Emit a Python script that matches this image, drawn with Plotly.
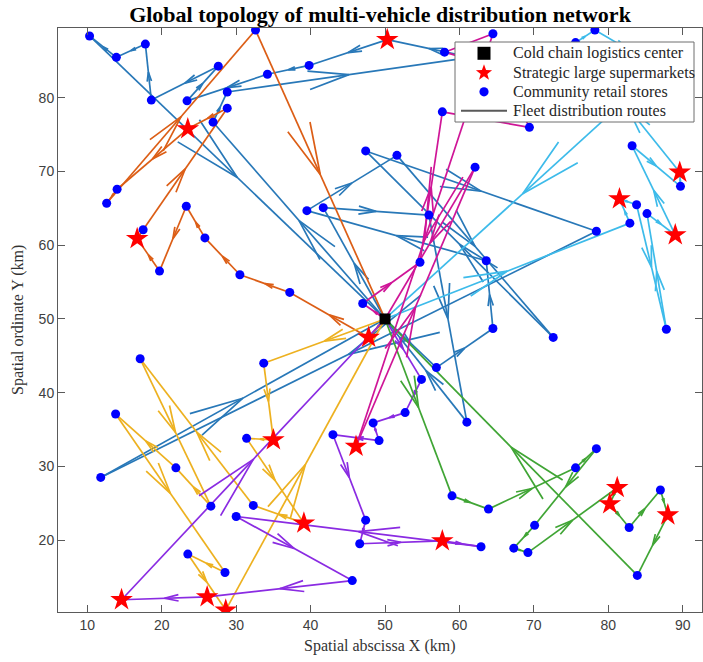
import math
import plotly.graph_objects as go

DEPOT_X = [50.0]
DEPOT_Y = [50.0]

# ---- routes (node sequences, depot at both ends) ----
BLUE1_X = [50.0, 26.9, 28.8, 61.5, 50.3, 39.8, 34.2, 23.4, 27.6, 18.6, 17.8, 13.9, 10.3, 50.0]
BLUE1_Y = [50.0, 76.7, 80.8, 85.5, 87.9, 84.4, 83.2, 79.6, 84.3, 79.7, 87.3, 85.5, 88.4, 50.0]

BLUE2_X = [50.0, 56.9, 64.5, 63.6, 39.5, 51.6, 72.6, 47.4, 78.4, 11.8, 50.0]
BLUE2_Y = [50.0, 43.4, 48.7, 57.9, 64.7, 72.2, 47.5, 72.8, 61.9, 28.5, 50.0]

BLUE3_X = [50.0, 41.7, 55.9, 61.0, 50.0]
BLUE3_Y = [50.0, 65.1, 64.1, 36.0, 50.0]

ORANGE_X = [50.0, 47.8, 37.2, 30.5, 25.8, 23.3, 19.7, 16.7, 17.5, 28.8, 23.5, 14.0, 12.6, 32.6, 50.0]
ORANGE_Y = [50.0, 47.5, 53.6, 56.0, 61.0, 65.3, 56.5, 60.9, 62.1, 78.6, 75.8, 67.6, 65.7, 89.2, 50.0]

YELLOW_X = [50.0, 33.7, 35.0, 31.4, 39.1, 32.3, 17.1, 26.6, 21.9, 13.8, 28.5, 23.5, 28.6, 50.0]
YELLOW_Y = [50.0, 44.0, 33.6, 33.8, 22.3, 24.7, 44.6, 24.6, 29.8, 37.1, 15.6, 18.1, 10.5, 50.0]

PURPLE_X = [50.0, 54.9, 52.7, 48.4, 49.2, 43.0, 47.4, 46.6, 57.7, 62.9, 30.0, 45.6, 26.1, 14.6, 50.0]
PURPLE_Y = [50.0, 41.8, 37.3, 35.9, 33.5, 34.3, 22.7, 19.5, 19.9, 19.1, 23.2, 14.5, 12.3, 11.9, 50.0]

GREEN_X = [50.0, 59.0, 63.9, 75.6, 78.4, 70.1, 67.3, 69.2, 81.2, 80.2, 82.8, 87.0, 88.0, 83.9, 50.0]
GREEN_Y = [50.0, 26.0, 24.2, 29.8, 32.4, 22.0, 18.9, 18.3, 27.1, 24.9, 21.7, 26.8, 23.4, 15.2, 50.0]

CYAN_X = [50.0, 82.9, 81.5, 83.8, 87.8, 85.2, 89.0, 83.2, 89.7, 89.6, 75.6, 78.2, 87.0, 50.0]
CYAN_Y = [50.0, 63.0, 66.3, 65.5, 48.6, 64.3, 61.4, 73.5, 68.0, 69.9, 87.5, 89.2, 84.0, 50.0]

MAGENTA_X = [50.0, 47.0, 54.7, 57.7, 69.4, 65.5, 58.0, 64.5, 46.1, 62.1, 50.0]
MAGENTA_Y = [50.0, 52.1, 57.7, 78.1, 76.0, 84.0, 86.2, 88.7, 32.7, 70.6, 50.0]

ROUTES = [
    (BLUE1_X, BLUE1_Y, "#2878b8"),
    (BLUE2_X, BLUE2_Y, "#2878b8"),
    (BLUE3_X, BLUE3_Y, "#2878b8"),
    (ORANGE_X, ORANGE_Y, "#dc5e16"),
    (YELLOW_X, YELLOW_Y, "#edb120"),
    (PURPLE_X, PURPLE_Y, "#8a2be2"),
    (GREEN_X, GREEN_Y, "#40a535"),
    (CYAN_X, CYAN_Y, "#3dbbea"),
    (MAGENTA_X, MAGENTA_Y, "#cf1597"),
]

SUPER_X = [50.3, 23.5, 16.7, 47.8, 89.6, 81.5, 89.0, 35.0, 39.1, 46.1, 57.7, 81.2, 80.2, 88.0, 14.6, 26.1, 28.6]
SUPER_Y = [87.9, 75.8, 60.9, 47.5, 69.9, 66.3, 61.4, 33.6, 22.3, 32.7, 19.9, 27.1, 24.9, 23.4, 11.9, 12.3, 10.5]

STORE_X = [10.3, 13.9, 17.8, 18.6, 27.6, 23.4, 28.8, 28.8, 26.9, 34.2, 39.8, 58.0, 64.5, 75.6, 78.2,
           57.7, 62.1, 47.4, 51.6, 39.5, 41.7, 55.9, 69.4, 83.2, 89.7, 83.8, 85.2, 82.9, 78.4,
           54.7, 63.6, 64.5, 37.2, 47.0, 56.9, 54.9, 72.6, 87.8, 32.6, 14.0, 12.6, 17.5, 19.7,
           23.3, 25.8, 30.5, 17.1, 33.7, 13.8, 11.8, 21.9, 31.4, 26.6, 32.3, 30.0, 23.5, 28.5,
           52.7, 48.4, 43.0, 49.2, 61.0, 59.0, 63.9, 47.4, 46.6, 62.9, 45.6, 67.3, 69.2, 70.1,
           75.6, 78.4, 82.8, 87.0, 83.9]
STORE_Y = [88.4, 85.5, 87.3, 79.7, 84.3, 79.6, 80.8, 78.6, 76.7, 83.2, 84.4, 86.2, 88.7, 87.5, 89.2,
           78.1, 70.6, 72.8, 72.2, 64.7, 65.1, 64.1, 76.0, 73.5, 68.0, 65.5, 64.3, 63.0, 61.9,
           57.7, 57.9, 48.7, 53.6, 52.1, 43.4, 41.8, 47.5, 48.6, 89.2, 67.6, 65.7, 62.1, 56.5,
           65.3, 61.0, 56.0, 44.6, 44.0, 37.1, 28.5, 29.8, 33.8, 24.6, 24.7, 23.2, 18.1, 15.6,
           37.3, 35.9, 34.3, 33.5, 36.0, 26.0, 24.2, 22.7, 19.5, 19.1, 14.5, 18.9, 18.3, 22.0,
           29.8, 32.4, 21.7, 26.8, 15.2]

X_TICKS = [10, 20, 30, 40, 50, 60, 70, 80, 90]
Y_TICKS = [20, 30, 40, 50, 60, 70, 80]

LEGEND_NAMES = ["Cold chain logistics center", "Strategic large supermarkets",
                "Community retail stores", "Fleet distribution routes"]

TITLE = "Global topology of multi-vehicle distribution network"
X_LABEL = "Spatial abscissa X (km)"
Y_LABEL = "Spatial ordinate Y (km)"

ALPHA, BETA = 0.33, 0.23

# figure geometry (pixels)
W, H = 703, 662
ML, MR, MT, MB = 58, 1, 28, 50
PW, PH = W - ML - MR, H - MT - MB


def paper(px, py):
    return (px - ML) / PW, (H - MB - py) / PH


def route_paths(xs, ys):
    lx, ly, ax, ay = [], [], [], []
    for i in range(len(xs) - 1):
        x0, y0, x1, y1 = xs[i], ys[i], xs[i + 1], ys[i + 1]
        lx += [x0, x1, None]
        ly += [y0, y1, None]
        u, v = (x1 - x0) / 2.0, (y1 - y0) / 2.0
        tx, ty = x0 + u, y0 + v
        ax += [tx - ALPHA * (u + BETA * v), tx, tx - ALPHA * (u - BETA * v), None]
        ay += [ty - ALPHA * (v - BETA * u), ty, ty - ALPHA * (v + BETA * u), None]
    return lx + ax, ly + ay


fig = go.Figure()
for xs, ys, col in ROUTES:
    px_, py_ = route_paths(xs, ys)
    fig.add_trace(go.Scatter(x=px_, y=py_, mode="lines", line=dict(color=col, width=1.7),
                             showlegend=False, hoverinfo="skip"))

fig.add_trace(go.Scatter(x=DEPOT_X, y=DEPOT_Y, mode="markers", name=LEGEND_NAMES[0], showlegend=False,
                         marker=dict(symbol="square", size=11, color="black")))
fig.add_trace(go.Scatter(x=SUPER_X, y=SUPER_Y, mode="markers", name=LEGEND_NAMES[1], showlegend=False,
                         marker=dict(symbol="star", size=17, color="red", line=dict(width=0))))
fig.add_trace(go.Scatter(x=STORE_X, y=STORE_Y, mode="markers", name=LEGEND_NAMES[2], showlegend=False,
                         marker=dict(symbol="circle", size=9, color="blue", line=dict(width=0))))

# ---- hand-drawn legend box (pixel layout -> paper coords) ----
shapes = []
bx0, by0 = paper(455, 122)
bx1, by1 = paper(694, 42)
shapes.append(dict(type="rect", xref="paper", yref="paper", x0=bx0, y0=by0, x1=bx1, y1=by1,
                   fillcolor="white", line=dict(color="#6e6e6e", width=1), layer="above"))
rows = [53.3, 72.8, 91.8, 110.8]
kx = 484
sx0, sy0 = paper(kx - 6.5, rows[0] + 6.5)
sx1, sy1 = paper(kx + 6.5, rows[0] - 6.5)
shapes.append(dict(type="rect", xref="paper", yref="paper", x0=sx0, y0=sy0, x1=sx1, y1=sy1,
                   fillcolor="black", line=dict(width=0), layer="above"))
R_out, R_in = 8.5, 3.5
pts = []
for k in range(10):
    ang = -math.pi / 2 + k * math.pi / 5
    r = R_out if k % 2 == 0 else R_in
    qx, qy = paper(kx + r * math.cos(ang), rows[1] + r * math.sin(ang))
    pts.append("%s%.5f,%.5f" % ("M" if k == 0 else "L", qx, qy))
shapes.append(dict(type="path", xref="paper", yref="paper", path=" ".join(pts) + " Z",
                   fillcolor="red", line=dict(width=0), layer="above"))
cx0, cy0 = paper(kx - 4.6, rows[2] + 4.6)
cx1, cy1 = paper(kx + 4.6, rows[2] - 4.6)
shapes.append(dict(type="circle", xref="paper", yref="paper", x0=cx0, y0=cy0, x1=cx1, y1=cy1,
                   fillcolor="blue", line=dict(width=0), layer="above"))
lx0, ly0 = paper(461, rows[3])
lx1, _ = paper(507, rows[3])
shapes.append(dict(type="line", xref="paper", yref="paper", x0=lx0, y0=ly0, x1=lx1, y1=ly0,
                   line=dict(color="#5a5a5a", width=2), layer="above"))

annotations = []
for name, ry in zip(LEGEND_NAMES, rows):
    ax_, ay_ = paper(511, ry)
    annotations.append(dict(text=name, x=ax_, y=ay_, xref="paper", yref="paper", xanchor="left",
                            yanchor="middle", showarrow=False,
                            font=dict(family="Liberation Serif, Times New Roman", size=16, color="#262626")))

tx_, ty_ = paper(380, 646)
annotations.append(dict(text=X_LABEL, x=0.5, y=ty_, xref="paper", yref="paper", xanchor="center",
                        yanchor="middle", showarrow=False,
                        font=dict(family="Liberation Serif, Times New Roman", size=16, color="#333333")))
tx_, ty_ = paper(18, 320)
annotations.append(dict(text=Y_LABEL, x=tx_, y=ty_, xref="paper", yref="paper", xanchor="center",
                        yanchor="middle", showarrow=False, textangle=-90,
                        font=dict(family="Liberation Serif, Times New Roman", size=16, color="#333333")))

axis_common = dict(showgrid=False, zeroline=False, showline=True, linecolor="#5a5a5a", linewidth=1,
                   mirror="ticks", ticks="inside", ticklen=7, tickcolor="#5a5a5a", automargin=False,
                   tickfont=dict(family="Liberation Sans, Arial", size=14, color="#404040"))

fig.update_layout(
    width=W, height=H,
    margin=dict(l=ML, r=MR, t=MT, b=MB),
    paper_bgcolor="white", plot_bgcolor="white",
    showlegend=False,
    hovermode=False,
    title=dict(text="<b>%s</b>" % TITLE, x=0.5, xref="paper", xanchor="center",
               y=1 - 14.0 / H, yref="container", yanchor="middle",
               font=dict(family="Liberation Serif, Times New Roman", size=22, color="black")),
    xaxis=dict(range=[6.06, 92.59], tickvals=X_TICKS, **axis_common),
    yaxis=dict(range=[10.24, 89.48], tickvals=Y_TICKS, **axis_common),
    shapes=shapes,
    annotations=annotations,
)

fig.write_html("out.html", config={"displayModeBar": False, "staticPlot": True},
               post_script="document.body.style.margin='0';document.body.style.overflow='hidden';")
